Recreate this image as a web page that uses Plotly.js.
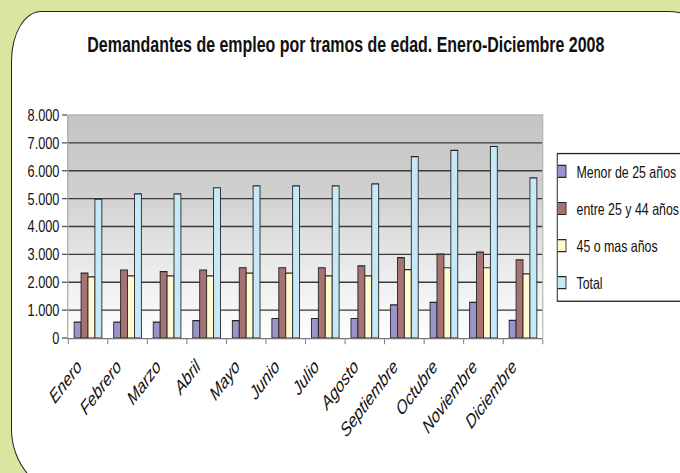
<!DOCTYPE html>
<html>
<head>
<meta charset="utf-8">
<script src="https://cdn.plot.ly/plotly-3.0.1.min.js"></script>
<style>
  html, body { margin: 0; padding: 0; }
  body { width: 680px; height: 473px; background: #DAE6A0; position: relative; overflow: hidden; }
  #panel { position: absolute; left: 11px; top: 11px; width: 700px; height: 482px;
           background: #fff; border: 1.5px solid #222;
           border-radius: 30px 45px 60px 60px / 50px 35px 66px 66px; }
  #grad { position: absolute; left: 68px; top: 115px; width: 475px; height: 223px;
          background: linear-gradient(to bottom, #C4C4C4 0%, #D0D0D0 35%, #EDEDED 72%, #FFFFFF 100%); }
  #chart { position: absolute; left: 0; top: 0; width: 907px; height: 473px;
           transform: scale(0.7497, 1); transform-origin: 0 0; }
</style>
</head>
<body>
<div id="panel"></div>
<div id="grad"></div>
<div id="chart"></div>
<script>
const months = ["Enero","Febrero","Marzo","Abril","Mayo","Junio","Julio","Agosto","Septiembre","Octubre","Noviembre","Diciembre"];
const menor25 = [570, 570, 570, 620, 620, 700, 700, 700, 1190, 1280, 1280, 630];
const entre25y44 = [2330, 2440, 2380, 2440, 2520, 2520, 2520, 2590, 2880, 3010, 3080, 2800];
const mas45 = [2190, 2230, 2230, 2230, 2330, 2330, 2230, 2230, 2450, 2520, 2520, 2300];
const total = [4980, 5170, 5170, 5390, 5460, 5460, 5460, 5530, 6510, 6730, 6870, 5745];
const seriesNames = ["Menor de 25 años", "entre 25 y 44 años", "45 o mas años", "Total"];
const yTicks = [0, 1000, 2000, 3000, 4000, 5000, 6000, 7000, 8000];

const colors = ["#9A94CC", "#A67272", "#FFFAD0", "#C6E9F8"];
const seriesData = [menor25, entre25y44, mas45, total];
const font = "'Liberation Sans', Arial, sans-serif";

const traces = seriesData.map((vals, i) => ({
  type: "bar",
  name: seriesNames[i],
  x: months,
  y: vals,
  legendgroup: "g" + i,
  marker: { color: colors[i], line: { color: "#262626", width: 1.2 } },
  hoverinfo: "x+y+name"
}));

const layout = {
  width: 907, height: 473,
  margin: { l: 91, r: 183, t: 115, b: 135, autoexpand: false },
  paper_bgcolor: "rgba(0,0,0,0)",
  plot_bgcolor: "rgba(0,0,0,0)",
  separators: ",.",
  barmode: "group",
  bargap: 0.3,
  bargroupgap: 0,
  title: {
    text: "Demandantes de empleo por tramos de edad. Enero-Diciembre 2008",
    font: { family: font, size: 21.3, color: "#111", weight: "bold" },
    x: 0.5086, xref: "container", xanchor: "center",
    y: 0.905, yref: "container", yanchor: "middle"
  },
  xaxis: {
    type: "category",
    tickson: "boundaries",
    ticks: "outside", ticklen: 5, tickcolor: "#777", tickwidth: 1.3,
    showline: true, linecolor: "#777", linewidth: 1.3,
    tickangle: -45,
    ticklabelstandoff: 8,
    ticklabelshift: -14,
    tickfont: { family: font, size: 19.5, color: "#111", style: "italic" },
    showgrid: false
  },
  yaxis: {
    range: [0, 8000],
    tickvals: yTicks,
    tickformat: ",d",
    ticks: "outside", ticklen: 7, tickcolor: "#555", tickwidth: 1.3,
    showline: true, linecolor: "#999", linewidth: 1.3,
    showgrid: true, gridcolor: "#3A3A3A", gridwidth: 1.3,
    zeroline: false,
    tickfont: { family: font, size: 17, color: "#111" }
  },
  legend: {
    x: 1.0295, xanchor: "left",
    y: 0.83, yanchor: "top",
    bgcolor: "#fff",
    bordercolor: "#222", borderwidth: 1.3,
    font: { family: font, size: 16.5, color: "#111" },
    tracegroupgap: 12.6,
    traceorder: "grouped",
    itemwidth: 30,
    indentation: -15
  },
  shapes: [
    { type: "path", xref: "paper", yref: "paper", layer: "above",
      path: "M 0 1 L 1 1 L 1 0", line: { color: "#B5B5B5", width: 1.5 } }
  ]
};

Plotly.newPlot("chart", traces, layout, { displayModeBar: false, staticPlot: true });
</script>
</body>
</html>
